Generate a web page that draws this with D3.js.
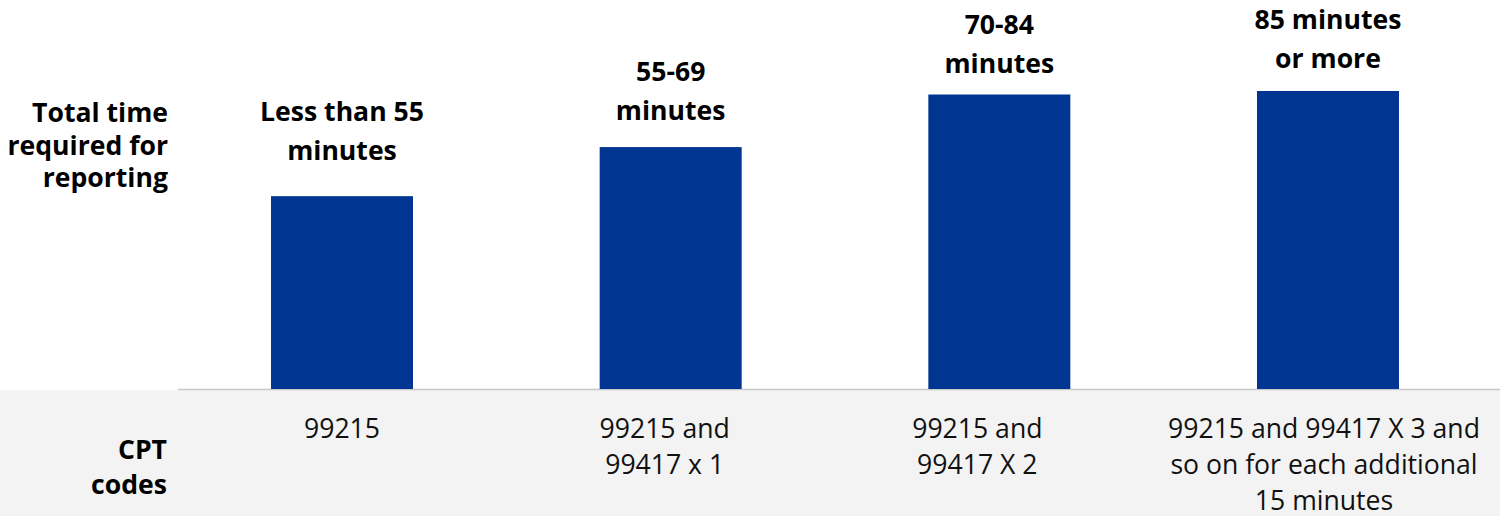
<!DOCTYPE html>
<html>
<head>
<meta charset="utf-8">
<script src="https://cdn.jsdelivr.net/npm/d3@7"></script>
<style>
  html, body { margin: 0; padding: 0; background: #fff; }
  svg { display: block; font-family: "Open Sans", sans-serif; }
</style>
</head>
<body>
<svg id="chart" width="1500" height="516"></svg>
<script>
// ---- data ----
const categories = ["lt55", "55-69", "70-84", "85plus"];
const values = [55, 69, 84, 85];
const barLabels = [
  ["Less than 55", "minutes"],
  ["55-69", "minutes"],
  ["70-84", "minutes"],
  ["85 minutes", "or more"]
];
const cptLabels = [
  ["99215"],
  ["99215 and", "99417 x 1"],
  ["99215 and", "99417 X 2"],
  ["99215 and 99417 X 3 and", "so on for each additional", "15 minutes"]
];
const rowLabelTop = ["Total time", "required for", "reporting"];
const rowLabelBottom = ["CPT", "codes"];

// ---- layout ----
const W = 1500, H = 516;
const baseY = 389, bandTop = 390;
const FS = 26.6;
const svg = d3.select("#chart");

const x = d3.scaleBand().domain(categories).range([178, 1492])
  .paddingInner(0.568).paddingOuter(0.283);
const y = d3.scaleLinear().domain([0, 85]).range([baseY, 91]);

// grey band for CPT row
svg.append("rect").attr("x", 0).attr("y", bandTop).attr("width", W).attr("height", H - bandTop)
  .attr("fill", "#f3f3f3");

// axis line
svg.append("line").attr("x1", 178).attr("x2", W).attr("y1", baseY + 0.5).attr("y2", baseY + 0.5)
  .attr("stroke", "#c8c8c8").attr("stroke-width", 1.5);

// bars
svg.selectAll("rect.bar").data(values).join("rect").attr("class", "bar")
  .attr("x", (d, i) => x(categories[i]))
  .attr("y", d => y(d))
  .attr("width", x.bandwidth())
  .attr("height", d => baseY - y(d))
  .attr("fill", "#003591");

// bar labels (bold, above bars)
const topGap = [36, 27, 22, 23];
const lblLH = 39;
barLabels.forEach((lines, i) => {
  const cx = x(categories[i]) + x.bandwidth() / 2;
  const lastBase = y(values[i]) - topGap[i];
  const t = svg.append("text").attr("text-anchor", "middle")
    .attr("font-size", FS).attr("font-weight", 700).attr("fill", "#000");
  lines.forEach((s, j) => {
    t.append("tspan").attr("x", cx)
      .attr("y", lastBase - (lines.length - 1 - j) * lblLH).text(s);
  });
});

// CPT labels
const cptNudge = [0, -6, -22, -4];
cptLabels.forEach((lines, i) => {
  const cx = x(categories[i]) + x.bandwidth() / 2 + cptNudge[i];
  const t = svg.append("text").attr("text-anchor", "middle")
    .attr("font-size", FS).attr("font-weight", 400).attr("fill", "#111");
  lines.forEach((s, j) => {
    t.append("tspan").attr("x", cx).attr("y", 438 + j * 36).text(s);
  });
});

// row labels
const tl = svg.append("text").attr("text-anchor", "end").attr("font-size", FS)
  .attr("font-weight", 700).attr("fill", "#000");
rowLabelTop.forEach((s, j) => tl.append("tspan").attr("x", 168).attr("y", 122 + j * 32.5).text(s));

const bl = svg.append("text").attr("text-anchor", "end").attr("font-size", FS)
  .attr("font-weight", 700).attr("fill", "#000");
rowLabelBottom.forEach((s, j) => bl.append("tspan").attr("x", 167).attr("y", 459 + j * 35).text(s));
</script>
</body>
</html>
